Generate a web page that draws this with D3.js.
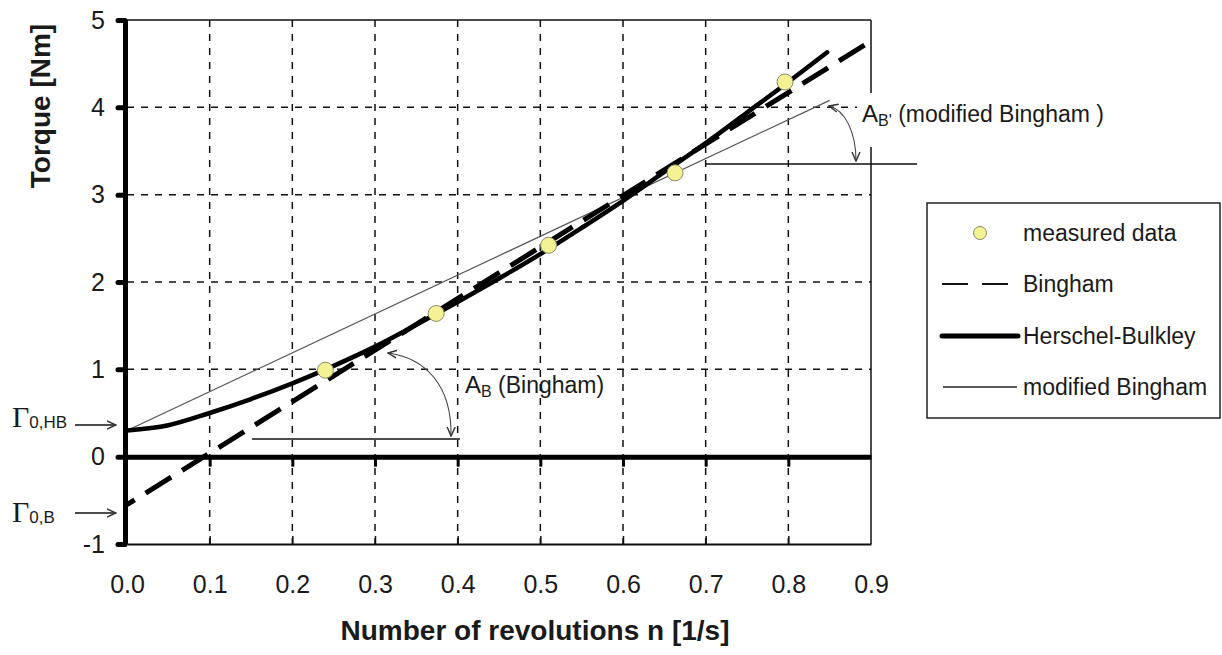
<!DOCTYPE html>
<html>
<head>
<meta charset="utf-8">
<script src="https://cdn.jsdelivr.net/npm/d3@7"></script>
<style>
  body { margin: 0; background: #fff; }
  svg { display: block; }
  text { font-family: "Liberation Sans", Arial, Helvetica, sans-serif; fill: #1a1a1a; }
</style>
</head>
<body>
<svg id="chart" width="1222" height="655"></svg>
<script>
// ---- data ----
const xTicks = [0.0, 0.1, 0.2, 0.3, 0.4, 0.5, 0.6, 0.7, 0.8, 0.9];
const yTicks = [-1, 0, 1, 2, 3, 4, 5];
const gridX = [0.1, 0.2, 0.3, 0.4, 0.5, 0.6, 0.7, 0.8];
const gridY = [1, 2, 3, 4];

const measuredN = [0.240, 0.374, 0.510, 0.663, 0.796];
const measuredT = [0.99, 1.64, 2.42, 3.25, 4.29];

const binghamN = [0.0, 0.9];
const binghamT = [-0.55, 4.76];

const hbN = [0.0, 0.05, 0.10, 0.15, 0.20, 0.25, 0.30, 0.35, 0.40, 0.45, 0.50, 0.55, 0.60, 0.65, 0.70, 0.75, 0.80, 0.847];
const hbT = [0.30, 0.36, 0.50, 0.66, 0.84, 1.04, 1.26, 1.51, 1.77, 2.04, 2.32, 2.62, 2.93, 3.26, 3.59, 3.94, 4.29, 4.63];

const modN = [0.0, 0.85];
const modT = [0.30, 4.08];

const legendLabels = ["measured data", "Bingham", "Herschel-Bulkley", "modified Bingham"];

// ---- scales ----
const svg = d3.select("#chart");
const x = d3.scaleLinear().domain([0, 0.9]).range([127, 871]);
const y = d3.scaleLinear().domain([-1, 5]).range([544, 20]);

const pts = (N, T) => N.map((n, i) => [n, T[i]]);
const line = d3.line().x(d => x(d[0])).y(d => y(d[1]));
const curve = d3.line().x(d => x(d[0])).y(d => y(d[1])).curve(d3.curveMonotoneX);

// ---- grid ----
const grid = svg.append("g").attr("stroke", "#111").attr("stroke-width", 1.5).attr("stroke-dasharray", "7,7");
grid.selectAll("line.gx").data(gridX).join("line")
  .attr("x1", d => x(d)).attr("x2", d => x(d))
  .attr("y1", y(5)).attr("y2", y(-1));
grid.selectAll("line.gy").data(gridY).join("line")
  .attr("x1", x(0)).attr("x2", x(0.9))
  .attr("y1", d => y(d)).attr("y2", d => y(d));

// frame: top and right borders
svg.append("line").attr("x1", x(0)).attr("x2", x(0.9)).attr("y1", y(5)).attr("y2", y(5))
  .attr("stroke", "#111").attr("stroke-width", 1.5);
svg.append("line").attr("x1", x(0.9)).attr("x2", x(0.9)).attr("y1", y(5)).attr("y2", 93)
  .attr("stroke", "#111").attr("stroke-width", 1.5);
svg.append("line").attr("x1", x(0.9)).attr("x2", x(0.9)).attr("y1", 147).attr("y2", y(-1))
  .attr("stroke", "#111").attr("stroke-width", 1.5);

// white gap behind A_B' label
svg.append("rect").attr("x", 857).attr("y", 96).attr("width", 250).attr("height", 40).attr("fill", "#fff");

// bottom axis (frame bottom) with upward ticks and labels
const xAxis = d3.axisBottom(x).tickValues(xTicks).tickFormat(d3.format(".1f"))
  .tickSizeInner(-8).tickSizeOuter(0).tickPadding(31);
const gx = svg.append("g").attr("transform", `translate(0,${y(-1)})`).call(xAxis);
gx.select(".domain").attr("stroke", "#111").attr("stroke-width", 2);
gx.selectAll(".tick line").attr("stroke", "#111").attr("stroke-width", 1.5);
gx.selectAll(".tick text").attr("font-size", 25).attr("fill", "#1a1a1a")
  .attr("font-family", "Liberation Sans, Arial, sans-serif");
gx.selectAll(".tick").filter(d => d === 0 || d === 0.9).select("line").remove();

// zero line with downward ticks
const zAxis = d3.axisBottom(x).tickValues(gridX).tickFormat("").tickSizeInner(10).tickSizeOuter(0);
const gz = svg.append("g").attr("transform", `translate(0,${y(0)})`).call(zAxis);
gz.select(".domain").attr("stroke", "#000").attr("stroke-width", 5);
gz.selectAll(".tick line").attr("stroke", "#000").attr("stroke-width", 3);

// left axis
const yAxis = d3.axisLeft(y).tickValues(yTicks).tickFormat(d => String(d))
  .tickSizeInner(7).tickSizeOuter(0).tickPadding(13);
const gy = svg.append("g").attr("transform", `translate(125,0)`).call(yAxis);
gy.select(".domain").attr("stroke", "#000").attr("stroke-width", 5);
gy.selectAll(".tick line").attr("stroke", "#000").attr("stroke-width", 5).attr("stroke-linecap", "round");
gy.selectAll(".tick text").attr("font-size", 25).attr("fill", "#1a1a1a")
  .attr("font-family", "Liberation Sans, Arial, sans-serif");

// ---- series ----
svg.append("path").datum(pts(modN, modT)).attr("d", line)
  .attr("fill", "none").attr("stroke", "#555").attr("stroke-width", 1.2);

svg.append("path").datum(pts(binghamN, binghamT)).attr("d", line)
  .attr("fill", "none").attr("stroke", "#000").attr("stroke-width", 5)
  .attr("stroke-dasharray", "30,13").attr("stroke-dashoffset", 21);

svg.append("path").datum(pts(hbN, hbT)).attr("d", curve)
  .attr("fill", "none").attr("stroke", "#000").attr("stroke-width", 4.5)
  .attr("stroke-linecap", "round");

svg.selectAll("circle.meas").data(pts(measuredN, measuredT)).join("circle")
  .attr("class", "meas")
  .attr("cx", d => x(d[0])).attr("cy", d => y(d[1])).attr("r", 8)
  .attr("fill", "#f4f194").attr("stroke", "#8a8a6a").attr("stroke-width", 1);

// ---- annotations ----
const ann = svg.append("g");
// A_B (Bingham)
ann.append("line").attr("x1", 252).attr("x2", 460).attr("y1", 439).attr("y2", 439)
  .attr("stroke", "#111").attr("stroke-width", 1.5);
// A_B' (modified Bingham)
ann.append("line").attr("x1", 706).attr("x2", 917).attr("y1", 164).attr("y2", 164)
  .attr("stroke", "#111").attr("stroke-width", 1.5);

svg.append("defs").append("marker").attr("id", "openArrow")
  .attr("viewBox", "0 0 10 10").attr("refX", 9).attr("refY", 5)
  .attr("markerWidth", 10).attr("markerHeight", 10).attr("markerUnits", "userSpaceOnUse")
  .attr("orient", "auto-start-reverse")
  .append("path").attr("d", "M0,1 L9,5 L0,9").attr("fill", "none").attr("stroke", "#333").attr("stroke-width", 1.4);

ann.append("path").attr("d", "M388,353 C425,358 452,385 451,436")
  .attr("fill", "none").attr("stroke", "#444").attr("stroke-width", 1.1)
  .attr("marker-start", "url(#openArrow)").attr("marker-end", "url(#openArrow)");
ann.append("path").attr("d", "M829,106 C845,110 856,132 856,161")
  .attr("fill", "none").attr("stroke", "#444").attr("stroke-width", 1.1)
  .attr("marker-start", "url(#openArrow)").attr("marker-end", "url(#openArrow)");

const tAB = ann.append("text").attr("x", 465).attr("y", 393).attr("font-size", 24);
tAB.append("tspan").text("A");
tAB.append("tspan").attr("font-size", 16).attr("dy", 4).text("B");
tAB.append("tspan").attr("dy", -4).attr("font-size", 23).text(" (Bingham)");

const tAB2 = ann.append("text").attr("x", 862).attr("y", 122).attr("font-size", 24);
tAB2.append("tspan").text("A");
tAB2.append("tspan").attr("font-size", 16).attr("dy", 4).text("B'");
tAB2.append("tspan").attr("dy", -4).attr("font-size", 23).text(" (modified Bingham )");

// Gamma labels with arrows
function gammaLabel(sub, yBase, yArrow) {
  const t = ann.append("text").attr("x", 12).attr("y", yBase);
  t.append("tspan").attr("font-family", "Liberation Serif, Times New Roman, serif").attr("font-size", 30).text("Γ");
  t.append("tspan").attr("font-size", 17).attr("dy", 1).text(sub);
  ann.append("line").attr("x1", 75).attr("x2", 116).attr("y1", yArrow).attr("y2", yArrow)
    .attr("stroke", "#111").attr("stroke-width", 1.5).attr("marker-end", "url(#openArrow)");
}
gammaLabel("0,HB", 427, 425);
gammaLabel("0,B", 522, 513);

// ---- axis titles ----
svg.append("text").attr("x", 535).attr("y", 640).attr("text-anchor", "middle")
  .attr("font-size", 28).attr("font-weight", "bold").text("Number of revolutions n [1/s]");
svg.append("text").attr("transform", "translate(50,106) rotate(-90)").attr("text-anchor", "middle")
  .attr("font-size", 28).attr("font-weight", "bold").text("Torque [Nm]");

// ---- legend ----
const lg = svg.append("g");
lg.append("rect").attr("x", 927).attr("y", 203).attr("width", 293).attr("height", 215)
  .attr("fill", "#fff").attr("stroke", "#222").attr("stroke-width", 1.5);
const rowsY = [233, 284, 336, 387];
lg.append("circle").attr("cx", 980).attr("cy", rowsY[0]).attr("r", 6.5)
  .attr("fill", "#f4f194").attr("stroke", "#8a8a6a").attr("stroke-width", 1);
lg.append("line").attr("x1", 942).attr("x2", 1008).attr("y1", rowsY[1]).attr("y2", rowsY[1])
  .attr("stroke", "#111").attr("stroke-width", 2).attr("stroke-dasharray", "26,14");
lg.append("line").attr("x1", 942).attr("x2", 1018).attr("y1", rowsY[2]).attr("y2", rowsY[2])
  .attr("stroke", "#000").attr("stroke-width", 5).attr("stroke-linecap", "round");
lg.append("line").attr("x1", 943).attr("x2", 1017).attr("y1", rowsY[3]).attr("y2", rowsY[3])
  .attr("stroke", "#222").attr("stroke-width", 1.5);
lg.selectAll("text.lt").data(legendLabels).join("text").attr("class", "lt")
  .attr("x", 1023).attr("y", (d, i) => rowsY[i]).attr("dy", "0.35em")
  .attr("font-size", 23).text(d => d);
</script>
</body>
</html>
